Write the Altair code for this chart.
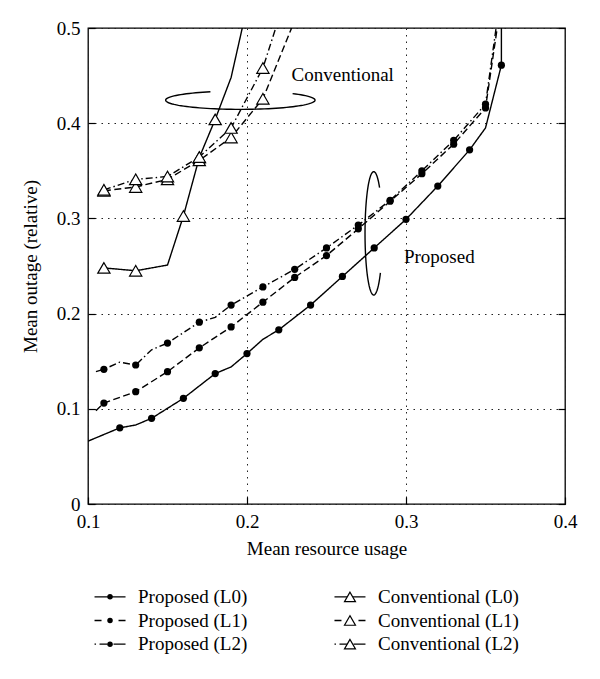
import math
import altair as alt
import pandas as pd

FONT = "Liberation Serif"

# ---------------- data ----------------
series = ["Proposed (L0)", "Proposed (L1)", "Proposed (L2)",
          "Conventional (L0)", "Conventional (L1)", "Conventional (L2)"]

# Proposed, L0 (solid, filled circles)
p0_x = [0.100, 0.120, 0.130, 0.140, 0.160, 0.180, 0.190, 0.200, 0.210, 0.220,
        0.240, 0.260, 0.280, 0.300, 0.320, 0.340, 0.350, 0.360, 0.360]
p0_y = [0.066, 0.080, 0.083, 0.090, 0.111, 0.137, 0.144, 0.158, 0.173, 0.183,
        0.209, 0.239, 0.269, 0.299, 0.334, 0.372, 0.395, 0.461, 0.560]
p0_m = [0, 1, 0, 1, 1, 1, 0, 1, 0, 1, 1, 1, 1, 1, 1, 1, 0, 1, 0]

# Proposed, L1 (dashed)
p1_x = [0.105, 0.110, 0.130, 0.150, 0.170, 0.190, 0.210, 0.230, 0.250, 0.270,
        0.290, 0.310, 0.330, 0.350, 0.360]
p1_y = [0.098, 0.106, 0.118, 0.139, 0.164, 0.186, 0.212, 0.238, 0.261, 0.289,
        0.318, 0.347, 0.378, 0.416, 0.530]
p1_m = [0, 1, 1, 1, 1, 1, 1, 1, 1, 1, 1, 1, 1, 1, 0]

# Proposed, L2 (dash-dot)
p2_x = [0.105, 0.110, 0.120, 0.130, 0.140, 0.150, 0.170, 0.180, 0.190, 0.210,
        0.230, 0.250, 0.270, 0.290, 0.310, 0.330, 0.350, 0.360]
p2_y = [0.139, 0.1415, 0.149, 0.146, 0.162, 0.169, 0.191, 0.196, 0.209, 0.228,
        0.2465, 0.269, 0.293, 0.319, 0.350, 0.382, 0.420, 0.540]
p2_m = [0, 1, 0, 1, 0, 1, 1, 0, 1, 1, 1, 1, 1, 1, 1, 1, 1, 0]

# Conventional, L0 (solid, open triangles)
c0_x = [0.110, 0.130, 0.150, 0.160, 0.170, 0.180, 0.190, 0.200]
c0_y = [0.248, 0.245, 0.251, 0.3025, 0.364, 0.404, 0.448, 0.522]
c0_m = [1, 1, 0, 1, 1, 1, 0, 0]

# Conventional, L1 (dashed)
c1_x = [0.110, 0.130, 0.150, 0.170, 0.190, 0.210, 0.230]
c1_y = [0.329, 0.333, 0.341, 0.361, 0.385, 0.4257, 0.508]
c1_m = [1, 1, 1, 1, 1, 1, 0]

# Conventional, L2 (dash-dot)
c2_x = [0.110, 0.130, 0.150, 0.170, 0.190, 0.210, 0.220]
c2_y = [0.330, 0.341, 0.344, 0.3645, 0.395, 0.458, 0.510]
c2_m = [1, 1, 1, 1, 1, 1, 0]

x_ticks = [0.1, 0.2, 0.3, 0.4]
y_ticks = [0.0, 0.1, 0.2, 0.3, 0.4, 0.5]

# annotation labels and ring anchors
note_text = ["Conventional", "Proposed"]
note_x = [0.228, 0.2987]
note_y = [0.4506, 0.2594]
ring_x = [0.1958, 0.2797]
ring_y = [0.4242, 0.2843]

# legend layout
legend_col = ["Proposed", "Proposed", "Proposed",
              "Conventional", "Conventional", "Conventional"]
legend_row = ["L0", "L1", "L2", "L0", "L1", "L2"]

# ---------------- build tables ----------------
xs = [p0_x, p1_x, p2_x, c0_x, c1_x, c2_x]
ys = [p0_y, p1_y, p2_y, c0_y, c1_y, c2_y]
ms = [p0_m, p1_m, p2_m, c0_m, c1_m, c2_m]
rows = []
for s, xx, yy, mm in zip(series, xs, ys, ms):
    for i, (a, b, m) in enumerate(zip(xx, yy, mm)):
        rows.append({"series": s, "i": i, "x": a, "y": b, "m": m,
                     "kind": s.split(" ")[0]})
df = pd.DataFrame(rows)

dashes = [[1, 0], [7, 3.5], [7, 3, 1.5, 3], [1, 0], [7, 3.5], [7, 3, 1.5, 3]]
dash_scale = alt.Scale(domain=series, range=dashes)
leg_dashes = [[1, 0], [7, 17], [1.5, 3.5, 8, 6, 12], [1, 0], [7, 17], [1.5, 3.5, 8, 6, 12]]
leg_dash_scale = alt.Scale(domain=series, range=leg_dashes)

W, H = 477, 476
xscale = alt.Scale(domain=[0.1, 0.4], nice=False, zero=False)
yscale = alt.Scale(domain=[0.0, 0.5], nice=False, zero=False)

ax_common = dict(labelFont=FONT, titleFont=FONT, labelFontSize=19, titleFontSize=19,
                 titleFontWeight="normal", labelColor="black", titleColor="black",
                 tickColor="black", tickWidth=1.2, domain=False, tickSize=7, offset=-7)

x_axis = alt.Axis(values=x_ticks, format=".1f", title="Mean resource usage",
                  grid=True, gridDash=[1.5, 5], gridColor="#222", gridWidth=1,
                  labelPadding=8, titlePadding=8, labelFlush=False, **ax_common)
y_axis = alt.Axis(values=y_ticks, title="Mean outage (relative)",
                  labelExpr="datum.value == 0 ? '0' : format(datum.value, '.1f')",
                  grid=True, gridDash=[1.5, 5], gridColor="#222", gridWidth=1,
                  labelPadding=8, titlePadding=16, labelFlush=False, **ax_common)
y_axis_r = alt.Axis(values=y_ticks, orient="right", labels=False, grid=False, **ax_common)

XE = alt.X("x:Q", scale=xscale, axis=x_axis)
YE = alt.Y("y:Q", scale=yscale, axis=y_axis)

lines = alt.Chart(df).mark_line(color="black", strokeWidth=1.4, clip=True).encode(
    x=XE, y=YE,
    detail="series:N",
    order="i:Q",
    strokeDash=alt.StrokeDash("series:N", scale=dash_scale, legend=None),
)

pts = alt.Chart(df).transform_filter("datum.m == 1")
circles = pts.transform_filter("datum.kind == 'Proposed'").mark_point(
    shape="circle", filled=True, color="black", size=52, opacity=1
).encode(x=XE, y=YE)
tris = pts.transform_filter("datum.kind == 'Conventional'").mark_point(
    shape="triangle-up", filled=False, fill="white", fillOpacity=1, stroke="black",
    strokeWidth=1.2, size=150, opacity=1
).encode(x=XE, y=YE)


def ring(a, b, t0, t1, n=90):
    pts_ = []
    for k in range(n + 1):
        t = math.radians(t0 + (t1 - t0) * k / n)
        pts_.append(f"{a * math.cos(t):.4f},{-b * math.sin(t):.4f}")
    return "M" + "L".join(pts_)


ring_conv = ring(1.0, 0.123, 113.6, 405.6)
ring_prop = ring(0.141, 1.0, 47.7, 320.2)

ring_df = pd.DataFrame({"x": ring_x, "y": ring_y, "k": [0, 1]})
ring1 = alt.Chart(ring_df).transform_filter("datum.k == 0").mark_point(
    shape=ring_conv, size=22320, filled=False, stroke="black", strokeWidth=1.4, opacity=1
).encode(x=XE, y=YE)
ring2 = alt.Chart(ring_df).transform_filter("datum.k == 1").mark_point(
    shape=ring_prop, size=15228, filled=False, stroke="black", strokeWidth=1.4, opacity=1
).encode(x=XE, y=YE)

note_df = pd.DataFrame({"x": note_x, "y": note_y, "t": note_text})
notes = alt.Chart(note_df).mark_text(
    align="left", baseline="middle", font=FONT, fontSize=19, color="black"
).encode(x=XE, y=YE, text="t:N")

inner = alt.layer(lines, ring1, ring2, tris, circles, notes)

# right-hand inward ticks (no labels)
right_ticks = alt.Chart(note_df).mark_point(opacity=0).encode(
    x=XE, y=alt.Y("y:Q", scale=yscale, axis=y_axis_r, title=None))

main = alt.layer(inner, right_ticks).resolve_axis(y="independent").properties(
    width=W, height=H, view=alt.ViewBackground(stroke="black", strokeWidth=1.3))

# ---------------- legend panel ----------------
leg_df = pd.DataFrame({"series": series, "col": legend_col, "row": legend_row})
lx = alt.X("col:N", scale=alt.Scale(type="point", domain=["Proposed", "Conventional"],
                                    padding=0.0918), axis=None)
ly = alt.Y("row:N", scale=alt.Scale(type="point", domain=["L0", "L1", "L2"],
                                    padding=0.5), axis=None)
lbase = alt.Chart(leg_df).encode(x=lx, y=ly)
leg_line = lbase.mark_point(shape="M-1,0L1,0", size=961, filled=False, stroke="black",
                            strokeWidth=1.4, opacity=1).encode(
    strokeDash=alt.StrokeDash("series:N", scale=leg_dash_scale, legend=None))
leg_circ = lbase.transform_filter("datum.col == 'Proposed'").mark_point(
    shape="circle", filled=True, color="black", size=30, opacity=1)
leg_tri = lbase.transform_filter("datum.col == 'Conventional'").mark_point(
    shape="triangle-up", filled=False, fill="white", fillOpacity=1, stroke="black",
    strokeWidth=1.2, size=120, opacity=1)
leg_txt = lbase.mark_text(align="left", baseline="middle", dx=28, font=FONT,
                          fontSize=19, color="black").encode(text="series:N")
legend = alt.layer(leg_line, leg_circ, leg_tri, leg_txt).properties(
    width=284, height=71, view=alt.ViewBackground(stroke="transparent"))

chart = alt.vconcat(main, legend, spacing=25).resolve_scale(
    strokeDash="independent"
).properties(
    padding={"left": 12, "top": 10, "right": 5, "bottom": 5}
).configure(background="white")

chart.save("out.html", embed_options={"renderer": "svg", "actions": False})
